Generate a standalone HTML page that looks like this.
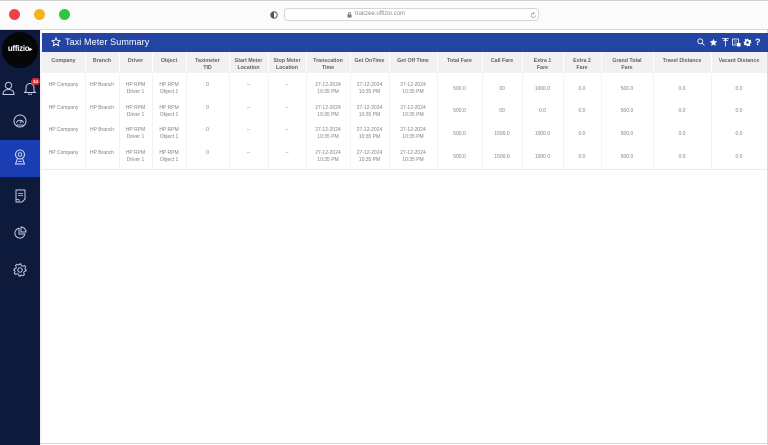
<!DOCTYPE html>
<html><head><meta charset="utf-8">
<style>
*{margin:0;padding:0;box-sizing:border-box}
html,body{width:768px;height:445px;overflow:hidden;background:#fff;font-family:"Liberation Sans",sans-serif}
.abs{position:absolute}
#chrome{left:0;top:0;width:768px;height:30px;background:#fbfbfb;border-bottom:1px solid #d9d9d9;border-top:1px solid #d0d0d0}
.dot{position:absolute;width:11px;height:11px;border-radius:50%;top:9px}
#addr{left:284px;top:8px;width:255px;height:13px;border:1px solid #d6d6d6;border-radius:4px;background:#fff}
#addrtxt{left:355px;top:10px;font-size:6px;color:#8a8a8a;line-height:9px}
#side{left:0;top:30px;width:40px;height:415px;background:#0d1a3c}
#active{left:0;top:140px;width:40px;height:37px;background:#1a3db3}
#logo{left:2px;top:32px;width:36px;height:36px;border-radius:50%;background:#050608}
#logotxt{left:2px;top:44px;width:36px;text-align:center;color:#fff;font-size:8px;font-weight:bold;letter-spacing:-0.3px}
#hdr{left:42px;top:33px;width:726px;height:19px;background:#2344a3}
#title{left:65px;top:35px;color:#fff;font-size:9px;line-height:15px;letter-spacing:0.1px}
#thbg{left:42px;top:52px;width:725px;height:21px;background:#f1f1f2}
.th{position:absolute;top:57.5px;font-size:5.3px;line-height:7px;color:#636363;font-weight:bold;text-align:center}
.td{position:absolute;font-size:5px;line-height:7px;color:#808080;text-align:center}
.vl{position:absolute;width:1px}
svg{position:absolute}
</style></head><body>
<div id="chrome" class="abs"></div>
<div class="dot" style="left:9px;background:#f0424a"></div>
<div class="dot" style="left:34px;background:#f6b31c"></div>
<div class="dot" style="left:59px;background:#2ec840"></div>
<svg style="left:270px;top:11px" width="8" height="8" viewBox="0 0 8 8"><circle cx="4" cy="4" r="3.2" fill="none" stroke="#555" stroke-width="1"/><path d="M4 0.8A3.2 3.2 0 0 0 4 7.2Z" fill="#555"/></svg>
<div id="addr" class="abs"></div>
<svg style="left:347px;top:12px" width="5" height="6" viewBox="0 0 5 6"><rect x="0.5" y="2.5" width="4" height="3" fill="#777"/><path d="M1.3 2.5V1.6a1.2 1.2 0 0 1 2.4 0v0.9" fill="none" stroke="#777" stroke-width="0.7"/></svg>
<div id="addrtxt" class="abs">trakzee.uffizio.com</div>
<svg style="left:530px;top:11px" width="7" height="8" viewBox="0 0 7 8"><path d="M5.5 4.5A2.2 2.2 0 1 1 3.5 2.2" fill="none" stroke="#999" stroke-width="0.7"/><path d="M3 1l1.2 1.2L3 3.4" fill="none" stroke="#999" stroke-width="0.7"/></svg>

<div id="side" class="abs"></div>
<div id="active" class="abs"></div>
<div id="logo" class="abs"></div>
<div id="logotxt" class="abs">uffizio<span style="font-size:6px">▸</span></div>
<svg style="left:2px;top:81px" width="13" height="14" viewBox="0 0 13 14"><circle cx="6.5" cy="4.5" r="3.2" fill="none" stroke="#c3cde3" stroke-width="1"/><path d="M1 13.5c0-3.5 2.5-5 5.5-5s5.5 1.5 5.5 5z" fill="none" stroke="#c3cde3" stroke-width="1"/></svg>
<svg style="left:23px;top:81px" width="14" height="14" viewBox="0 0 14 14"><path d="M3 10V6.5a4 4 0 0 1 8 0V10l1.3 1.5H1.7z" fill="none" stroke="#c3cde3" stroke-width="1"/><path d="M5.5 12.5a1.5 1.5 0 0 0 3 0" fill="none" stroke="#c3cde3" stroke-width="0.9"/></svg>
<div class="abs" style="left:31px;top:78px;width:9px;height:7px;border-radius:4px;background:#e5262d;color:#fff;font-size:4.5px;line-height:7px;text-align:center;font-weight:bold">34</div>
<svg style="left:13px;top:114px" width="14" height="14" viewBox="0 0 14 14"><circle cx="7" cy="7" r="6" fill="none" stroke="#c3cde3" stroke-width="1"/><path d="M3.5 9a3.6 3.6 0 0 1 7 0" fill="none" stroke="#c3cde3" stroke-width="0.9"/><path d="M7 9L9 6" stroke="#c3cde3" stroke-width="0.9"/><path d="M3.5 11h7" stroke="#c3cde3" stroke-width="0.9"/></svg>
<svg style="left:14px;top:149px" width="12" height="16" viewBox="0 0 12 16"><circle cx="6" cy="5.5" r="4.5" fill="none" stroke="#d5ddf0" stroke-width="1"/><circle cx="6" cy="5.5" r="1.8" fill="none" stroke="#d5ddf0" stroke-width="0.9"/><path d="M3.5 9.5L1.5 15h9L8.5 9.5" fill="none" stroke="#d5ddf0" stroke-width="1"/><path d="M4 12.5h4" stroke="#d5ddf0" stroke-width="0.8"/></svg>
<svg style="left:15px;top:189px" width="11" height="14" viewBox="0 0 11 14"><path d="M1 1h9v9l-3 3H1z" fill="none" stroke="#c3cde3" stroke-width="1"/><path d="M3 4.5h5M3 6.5h5" stroke="#c3cde3" stroke-width="0.8"/><path d="M1 10.5h3v2.5" fill="none" stroke="#c3cde3" stroke-width="0.8"/></svg>
<svg style="left:13px;top:226px" width="14" height="14" viewBox="0 0 14 14"><path d="M6 2.2A5 5 0 1 0 11.8 8H6z" fill="none" stroke="#c3cde3" stroke-width="1"/><path d="M8 1v5h5A5 5 0 0 0 8 1z" fill="none" stroke="#c3cde3" stroke-width="1"/></svg>
<svg style="left:13px;top:263px" width="14" height="14" viewBox="0 0 14 14"><circle cx="7" cy="7" r="2.2" fill="none" stroke="#c3cde3" stroke-width="1"/><path d="M6 1h2l.4 1.7 1.5.7 1.5-.9 1.4 1.4-.9 1.5.7 1.5L13 6v2l-1.7.4-.7 1.5.9 1.5-1.4 1.4-1.5-.9-1.5.7L8 13H6l-.4-1.7-1.5-.7-1.5.9-1.4-1.4.9-1.5-.7-1.5L1 8V6l1.7-.4.7-1.5-.9-1.5 1.4-1.4 1.5.9 1.5-.7z" fill="none" stroke="#c3cde3" stroke-width="0.9"/></svg>

<div class="abs" style="left:40px;top:30px;width:2px;height:415px;background:#f4f4f4"></div>
<div class="abs" style="left:767px;top:30px;width:1px;height:415px;background:#d8d8d8"></div>
<div class="abs" style="left:40px;top:443px;width:728px;height:1px;background:#d8d8d8"></div>

<div id="hdr" class="abs"></div>
<svg style="left:51px;top:37px" width="10" height="10" viewBox="0 0 10 10"><path d="M5 .8l1.2 2.7 2.9.3-2.2 2 .7 2.9L5 7.2 2.4 8.7l.7-2.9-2.2-2 2.9-.3z" fill="none" stroke="#fff" stroke-width="0.9"/></svg>
<div id="title" class="abs">Taxi Meter Summary</div>
<svg style="left:697px;top:38px" width="8" height="8" viewBox="0 0 8 8"><circle cx="3.3" cy="3.3" r="2.5" fill="none" stroke="#fff" stroke-width="0.8"/><path d="M5.2 5.2L7.5 7.5" stroke="#fff" stroke-width="0.8"/></svg>
<svg style="left:709px;top:38px" width="9" height="9" viewBox="0 0 10 10"><path d="M5 .8l1.2 2.7 2.9.3-2.2 2 .7 2.9L5 7.2 2.4 8.7l.7-2.9-2.2-2 2.9-.3z" fill="#fff"/></svg>
<svg style="left:721px;top:37px" width="9" height="10" viewBox="0 0 9 10"><path d="M1 1.5h7M2 3.5h5M4.5 3.5v6" stroke="#fff" stroke-width="0.8" fill="none"/><circle cx="4.5" cy="2.5" r="1" fill="#fff"/></svg>
<svg style="left:732px;top:38px" width="9" height="9" viewBox="0 0 9 9"><rect x="0.5" y="1" width="6" height="6" fill="none" stroke="#fff" stroke-width="0.8"/><path d="M2 3h3M2 5h3" stroke="#fff" stroke-width="0.6"/><rect x="5" y="5" width="3.5" height="3.5" fill="#fff"/></svg>
<svg style="left:743px;top:38px" width="9" height="9" viewBox="0 0 14 14"><path d="M6 1h2l.4 1.7 1.5.7 1.5-.9 1.4 1.4-.9 1.5.7 1.5L13 6v2l-1.7.4-.7 1.5.9 1.5-1.4 1.4-1.5-.9-1.5.7L8 13H6l-.4-1.7-1.5-.7-1.5.9-1.4-1.4.9-1.5-.7-1.5L1 8V6l1.7-.4.7-1.5-.9-1.5 1.4-1.4 1.5.9 1.5-.7z" fill="#fff"/><circle cx="7" cy="7" r="2" fill="#2344a3"/></svg>
<div class="abs" style="left:755px;top:36px;color:#fff;font-size:9px;font-weight:bold;line-height:12px">?</div>

<div id="thbg" class="abs"></div>
<div class="abs" style="left:42px;top:169px;width:725px;height:1px;background:#ececec"></div>

<div id="tbl"></div>
<script>
(function(){
var b=[42,85,119,152,186,229,268,306,350,389,437,482,522,563,601,653,711,767];
var h=["Company","Branch","Driver","Object","Taximeter<br>TID","Start Meter<br>Location","Stop Meter<br>Location","Transcation<br>Time","Get OnTime","Get Off Time","Total Fare","Call Fare","Extra 1<br>Fare","Extra 2<br>Fare","Grand Total<br>Fare","Travel Distance","Vacant Distance"];
var t="27-12-2024<br>10:35 PM";
var rows=[
["HP Company","HP Branch","HP RPM<br>Driver 1","HP RPM<br>Object 1","0","--","--",t,t,t,"500.0","00","1000.0","0.0","500.0","0.0","0.0"],
["HP Company","HP Branch","HP RPM<br>Driver 1","HP RPM<br>Object 1","0","--","--",t,t,t,"500.0","00","0.0","0.0","500.0","0.0","0.0"],
["HP Company","HP Branch","HP RPM<br>Driver 1","HP RPM<br>Object 1","0","--","--",t,t,t,"500.0","1500.0","1000.0","0.0","500.0","0.0","0.0"],
["HP Company","HP Branch","HP RPM<br>Driver 1","HP RPM<br>Object 1","0","--","--",t,t,t,"500.0","1500.0","1000.0","0.0","500.0","0.0","0.0"]];
var s="";
for(var i=0;i<17;i++){
 var l=b[i],w=b[i+1]-b[i];
 s+='<div class="th" style="left:'+l+'px;width:'+w+'px">'+h[i]+'</div>';
 if(i>0){s+='<div class="vl" style="left:'+l+'px;top:52px;height:21px;background:#fdfdfd"></div>';
  s+='<div class="vl" style="left:'+l+'px;top:73px;height:96px;background:#f3f3f3"></div>';}
 for(var r=0;r<4;r++){
  var yy=((i<10?82:85.5)+22.67*r).toFixed(2);
  s+='<div class="td" style="left:'+l+'px;width:'+w+'px;top:'+yy+'px">'+rows[r][i]+'</div>';
 }
}
document.getElementById('tbl').innerHTML=s;
})();
</script>
</body></html>
